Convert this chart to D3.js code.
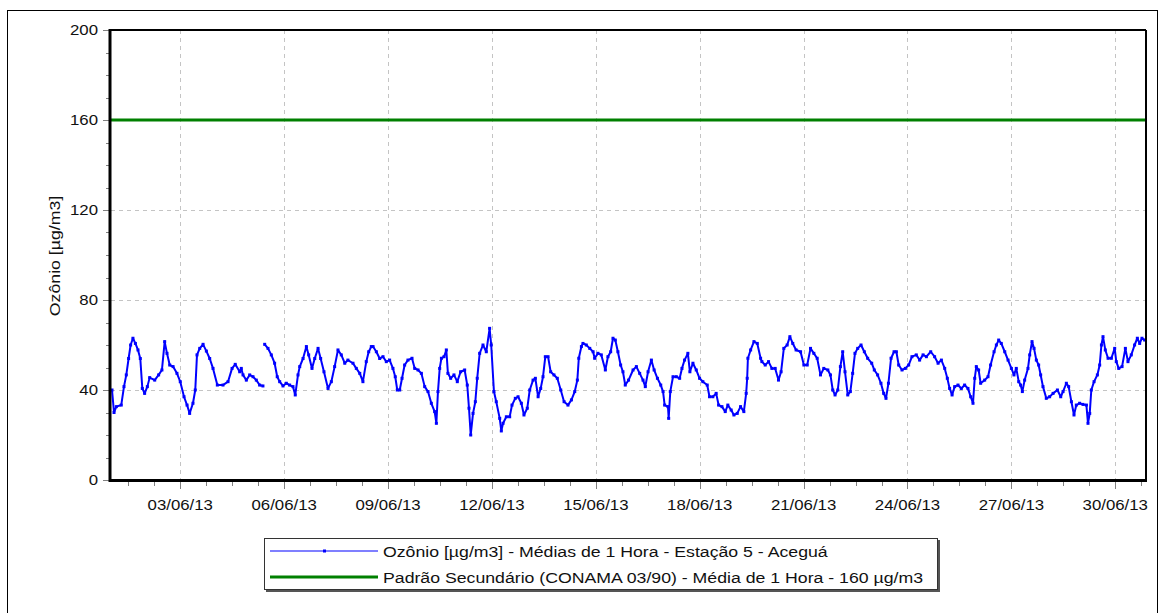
<!DOCTYPE html>
<html><head><meta charset="utf-8">
<script src="https://cdn.jsdelivr.net/npm/d3@7"></script>
<style>body{margin:0;background:#fff;}svg{display:block;font-family:"Liberation Sans",Arial,sans-serif;}</style>
</head><body><svg id="c" width="1164" height="613"></svg>
<script>
// hours since 01/06/2013 00:00 (null value = missing data)
const hours = [0.7,2.1,3.7,7.1,9.0,10.6,12.2,13.6,15.2,16.9,18.7,20.3,21.7,23.3,25.2,26.8,30.3,33.0,35.3,37.2,38.8,40.7,43.0,45.7,48.0,50.6,52.7,54.5,56.8,58.4,59.6,61.5,63.8,66.1,68.4,70.7,73.7,77.6,81.1,83.9,86.1,89.2,
90.3,91.5,93.8,96.1,98.4,100.7,103.0,105.3,105.9,106.5,108.8,111.1,113.4,115.2,116.9,119.2,121.5,123.8,126.1,127.7,129.6,130.8,133.1,135.4,137.0,139.3,141.2,143.5,145.3,147.6,150.4,152.7,155.0,157.3,159.6,162.0,164.2,167.7,170.0,172.4,174.6,176.9,178.6,180.4,
181.6,183.9,186.2,188.5,190.8,193.1,195.4,197.0,198.4,200.1,201.7,203.5,205.8,208.6,210.5,212.8,215.1,217.4,219.7,222.0,224.3,225.5,226.6,227.8,229.0,230.8,232.4,233.5,235.4,237.7,240.0,242.3,245.1,246.9,248.1,249.3,250.9,252.5,253.8,255.5,257.8,260.1,262.4,263.5,265.4,267.0,269.4,
270.5,271.7,274.0,276.3,277.9,280.2,282.1,284.4,286.2,288.5,290.2,292.5,294.1,296.0,297.8,299.4,301.0,302.9,304.7,307.0,309.3,311.7,314.0,316.7,319.1,321.4,323.2,324.2,326.0,327.1,329.4,331.8,334.1,335.2,337.5,339.8,342.6,344.4,346.3,347.9,349.5,351.3,353.2,354.8,356.4,358.7,
361.8,364.1,366.4,368.7,370.3,372.2,374.5,376.4,378.7,381.0,382.6,383.7,386.0,386.5,387.6,389.5,391.8,394.1,395.7,397.5,399.8,401.2,403.3,405.6,407.9,410.2,413.2,414.8,417.1,419.4,421.1,423.4,425.7,427.5,429.8,431.7,434.0,436.3,438.6,440.2,440.9,441.4,443.3,445.6,447.9,450.2,
451.1,453.4,455.7,458.0,460.3,462.6,464.4,466.3,468.6,470.5,472.5,474.8,477.9,480.2,482.5,484.8,487.1,489.4,491.7,494.0,496.8,498.6,500.2,501.8,503.7,505.5,507.1,508.7,510.6,512.4,514.0,515.6,517.5,519.8,522.1,524.4,527.2,529.0,531.3,533.6,535.5,537.1,538.8,540.6,
542.7,544.3,545.9,548.2,550.5,552.8,555.1,558.1,560.4,562.8,565.1,568.1,570.8,573.2,575.5,577.8,579.6,581.2,582.9,584.7,587.0,589.3,591.6,593.9,595.8,597.4,598.6,599.7,601.3,602.7,605.5,607.8,609.6,612.0,613.6,615.2,617.0,619.4,621.7,624.0,625.8,627.4,629.1,
630.4,631.6,633.2,635.5,636.7,638.3,639.7,641.3,642.9,644.3,645.9,648.2,650.5,652.9,655.9,658.2,659.8,662.1,663.7,665.6,667.4,669.0,671.3,673.6,676.0,677.1,678.3,679.4,681.3,683.6,685.2,686.4,687.5,689.1,691.0,693.3,695.6,696.7,698.4,700.7,703.0,704.8,707.1,709.4,711.3,712.9,714.5,716.4];
const ozone = [40,30,32.6,33.3,41.5,46.7,54,60,63,60.7,57.8,54,40.7,38.5,41.5,45.5,44.4,46.7,48.9,61.5,56.3,51.1,50.4,47.4,43.7,37,33.3,29.6,34.1,40,55.6,58.5,60.3,57.3,54,49.6,42.2,42.2,43.7,49.6,51.4,48.1,
49.6,46.7,44.4,46.7,45.9,44.4,42.2,41.8,null,60.3,58.5,55.6,51.9,45.9,43.7,41.8,43,42.2,41.5,37.8,46.7,50.4,54,59.3,55.6,49.6,54,58.5,54,48.1,40.7,43.7,50.4,57.8,55.6,51.9,53.3,51.9,49.6,47.4,43.7,52.6,57,59.3,
59.3,57,54,54.8,52.6,53.3,49.6,45.9,40,40,45.2,51.1,53.3,54.1,49.6,48.9,47.4,41.5,39.3,34.1,30.4,25.2,39.3,49.6,54.1,54.8,57.8,47.4,45.2,46.7,43.7,48.1,48.9,42.2,31.9,20,29.6,34.8,45.2,56.3,60,57,67.4,60,39.3,34.8,27.4,
21.8,25.2,28.1,28.1,33.3,36.3,37,34.1,28.9,31.9,40,44.4,45.2,37,40.7,45.9,54.8,54.8,48.1,46.7,45.2,40,34.8,33.3,35.6,39.3,44.4,54.1,59.3,60.7,60,58.5,57,54.1,56.3,55.6,48.9,54.8,57,63,62.2,57,51.1,48.1,42.2,44.4,
48.9,50.4,47.4,44.4,41.5,48.1,53.3,48.9,45.2,42.2,39.3,33.3,32.6,27.4,39.3,45.9,45.9,45.2,49.6,53.3,56.3,48.1,51.9,48.9,45.2,43.7,42.2,37,37,38.5,33.3,32.6,30.4,33.3,31.1,28.9,29.6,32.6,30.4,38.5,45.2,54.1,57.8,61.5,60.7,54.1,
52.6,51.1,52.6,49.6,49.6,44.4,48.1,58.5,60,63.7,60.7,57.8,57,51.1,51.1,58.5,56.3,54.1,46.7,49.6,48.9,46.7,40,37.8,40,50.4,57,48.1,37.8,39.3,47.4,56.3,58.5,60,57,54.1,51.9,48.9,46.7,43,38.5,36.3,43,54.1,
57,57,51.1,48.9,49.6,51.1,54.8,55.6,53.3,55.6,54.8,57,54.8,51.9,53.3,49.6,45.2,40.7,37.8,41.5,42.2,40.7,42.2,40.7,37,34.1,45.2,50.4,48.9,43,44.4,45.9,51.1,57,60,62.2,60.7,57,53.3,49.6,46.7,49.6,43.7,
42.2,39.3,44.4,49.6,55.6,61.5,58.5,53.3,51.1,46.7,41.5,36.3,37,38.5,40,37,39.3,43,41.5,34.8,28.9,33.3,34.1,33.6,33.3,25.2,29.6,40,43.7,46.7,51.1,60,63.7,57.8,54.1,54.1,58.5,52.6,49.6,50.4,58.5,52.6,55.6,60,63,60.7,63,62.2];
const limitValue = 160;
const yTicks = [0,40,80,120,160,200];
const xTickLabels = ["03/06/13","06/06/13","09/06/13","12/06/13","15/06/13","18/06/13","21/06/13","24/06/13","27/06/13","30/06/13"];
const yTitle = "Ozônio [µg/m3]";
const legendLabels = ["Ozônio [µg/m3] - Médias de 1 Hora - Estação 5 - Aceguá","Padrão Secundário (CONAMA 03/90) - Média de 1 Hora - 160 µg/m3"];

const svg = d3.select("#c");
const L=111, R=1146, T=30, B=480;
const t0 = Date.UTC(2013,5,1,0,0);
const H = 3600000;
const x = d3.scaleUtc().domain([new Date(t0), new Date(t0+717.3*H)]).range([L,R]);
const y = d3.scaleLinear().domain([0,200]).range([B,T]);
const parse = d3.utcParse("%d/%m/%y");
const SX = 1.12, SXL = 1.18;

// outer frame
svg.append("rect").attr("x",7.5).attr("y",10.5).attr("width",1150).attr("height",640).attr("fill","none").attr("stroke","#000").attr("stroke-width",1);

const tickDates = xTickLabels.map(parse);
// grid
svg.append("g").selectAll("line").data(tickDates).join("line")
  .attr("x1",d=>Math.round(x(d))+0.5).attr("x2",d=>Math.round(x(d))+0.5).attr("y1",T).attr("y2",B)
  .attr("stroke","#c4c4c4").attr("stroke-dasharray","4,4");
svg.append("g").selectAll("line").data(yTicks.filter(v=>v>0&&v<200)).join("line")
  .attr("x1",L).attr("x2",R).attr("y1",d=>Math.round(y(d))+0.5).attr("y2",d=>Math.round(y(d))+0.5)
  .attr("stroke","#c4c4c4").attr("stroke-dasharray","4,4");

// y axis ticks
const yMinor = d3.range(0,201,10).filter(v=>v%40!==0);
svg.append("g").selectAll("line").data(yMinor).join("line")
  .attr("x1",106).attr("x2",109).attr("y1",d=>Math.round(y(d))+0.5).attr("y2",d=>Math.round(y(d))+0.5).attr("stroke","#808080");
svg.append("g").selectAll("line").data(yTicks).join("line")
  .attr("x1",103).attr("x2",109).attr("y1",d=>Math.round(y(d))+0.5).attr("y2",d=>Math.round(y(d))+0.5).attr("stroke","#808080");
svg.append("g").selectAll("text").data(yTicks).join("text")
  .attr("transform",d=>`translate(98,${y(d)+5}) scale(${SX},1)`).attr("text-anchor","end")
  .attr("font-size",15).attr("fill","#111").text(d=>d);

// x axis ticks
const minorDates=[];
for(let k=-10;k<60;k++){const t=tickDates[0].getTime()+k*18*H; if(t>=x.domain()[0].getTime()&&t<=x.domain()[1].getTime()) minorDates.push(new Date(t));}
svg.append("g").selectAll("line").data(minorDates).join("line")
  .attr("x1",d=>Math.round(x(d))+0.5).attr("x2",d=>Math.round(x(d))+0.5).attr("y1",482).attr("y2",486).attr("stroke","#808080");
svg.append("g").selectAll("line").data(tickDates).join("line")
  .attr("x1",d=>Math.round(x(d))+0.5).attr("x2",d=>Math.round(x(d))+0.5).attr("y1",482).attr("y2",489).attr("stroke","#808080");
svg.append("g").selectAll("text").data(tickDates).join("text")
  .attr("transform",(d,i)=>`translate(${x(d)},510) scale(${SX},1)`).attr("text-anchor","middle")
  .attr("font-size",15).attr("fill","#111").text((d,i)=>xTickLabels[i]);

// y title
svg.append("text").attr("transform",`translate(60,256) rotate(-90) scale(${SXL},1)`).attr("text-anchor","middle")
  .attr("font-size",15).attr("fill","#111").text(yTitle);

// limit line
svg.append("line").attr("x1",L).attr("x2",R).attr("y1",y(limitValue)).attr("y2",y(limitValue)).attr("stroke","#008000").attr("stroke-width",3);

// data
const data = hours.map((h,i)=>({t:new Date(t0+h*H), v:ozone[i]}));
const line = d3.line().defined(d=>d.v!==null).x(d=>x(d.t)).y(d=>y(d.v));
svg.append("path").datum(data).attr("d",line).attr("fill","none").attr("stroke","#0000ff").attr("stroke-width",2).attr("stroke-linejoin","round");
svg.append("g").selectAll("rect").data(data.filter(d=>d.v!==null)).join("rect")
  .attr("x",d=>x(d.t)-1.5).attr("y",d=>y(d.v)-1.5).attr("width",3).attr("height",3).attr("fill","#0000ff");

// plot frame
svg.append("line").attr("x1",L).attr("x2",R).attr("y1",T).attr("y2",T).attr("stroke","#000").attr("stroke-width",2);
svg.append("line").attr("x1",R).attr("x2",R).attr("y1",T).attr("y2",B+1).attr("stroke","#000").attr("stroke-width",2);
svg.append("line").attr("x1",L-1).attr("x2",L-1).attr("y1",T-1).attr("y2",B+2).attr("stroke","#000").attr("stroke-width",3);
svg.append("line").attr("x1",L-2).attr("x2",R+1).attr("y1",B+0.5).attr("y2",B+0.5).attr("stroke","#000").attr("stroke-width",3);

// legend
const lg = svg.append("g");
lg.append("rect").attr("x",266).attr("y",540).attr("width",674).attr("height",52).attr("fill","#555");
lg.append("rect").attr("x",264.5).attr("y",538.5).attr("width",673).attr("height",51).attr("fill","#fff").attr("stroke","#333").attr("stroke-width",1);
const colors=["#0000ff","#008000"], widths=[1.2,3];
legendLabels.forEach((lab,i)=>{
  const yy = 551 + i*26;
  lg.append("line").attr("x1",270).attr("x2",378).attr("y1",yy).attr("y2",yy).attr("stroke",colors[i]).attr("stroke-width",widths[i]);
  if(i===0) lg.append("rect").attr("x",323).attr("y",yy-1.5).attr("width",3).attr("height",3).attr("fill",colors[i]);
  lg.append("text").attr("transform",`translate(383,${yy+6}) scale(${SXL},1)`).attr("font-size",15).attr("fill","#111").text(lab);
});
</script></body></html>
